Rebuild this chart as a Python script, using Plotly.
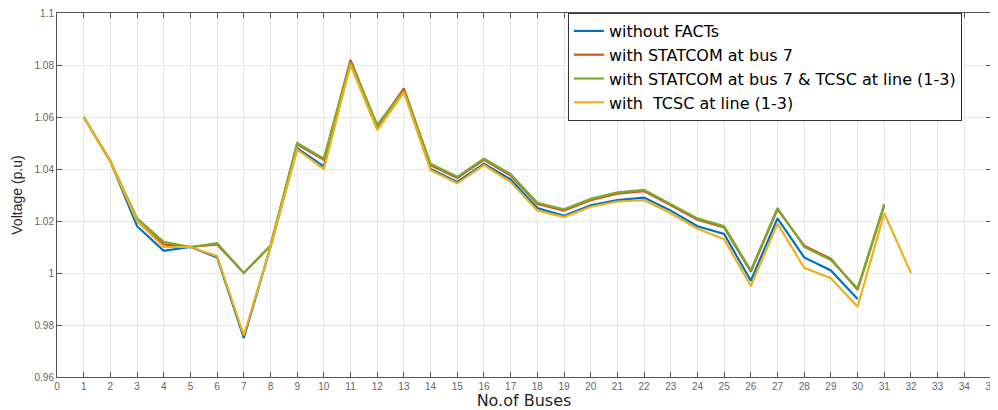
import plotly.graph_objects as go

buses = list(range(1, 33))

without_facts = [1.060, 1.043, 1.018, 1.0085, 1.010, 1.006, 0.975, 1.010, 1.048, 1.041,
                 1.081, 1.056, 1.070, 1.040, 1.035, 1.042, 1.036, 1.025, 1.022, 1.026,
                 1.028, 1.029, 1.024, 1.018, 1.015, 0.997, 1.021, 1.006, 1.001, 0.990]
statcom_bus7 = [1.060, 1.043, 1.020, 1.011, 1.010, 1.011, 1.000, 1.0105, 1.0495, 1.0435,
                1.082, 1.0565, 1.071, 1.0415, 1.0365, 1.0435, 1.0375, 1.0265, 1.024, 1.028,
                1.0305, 1.0315, 1.026, 1.0205, 1.0175, 1.0005, 1.0245, 1.0105, 1.0055, 0.9935,
                1.026]
statcom_tcsc = [1.060, 1.043, 1.021, 1.012, 1.010, 1.0115, 1.000, 1.0105, 1.050, 1.044,
                1.081, 1.057, 1.070, 1.042, 1.037, 1.044, 1.038, 1.027, 1.0245, 1.0285,
                1.031, 1.032, 1.0265, 1.021, 1.018, 1.001, 1.025, 1.010, 1.005, 0.994,
                1.0265]
tcsc_line13 = [1.060, 1.043, 1.020, 1.010, 1.010, 1.0065, 0.976, 1.010, 1.0475, 1.040,
               1.080, 1.055, 1.0695, 1.0395, 1.0345, 1.0415, 1.035, 1.024, 1.0215, 1.0255,
               1.0275, 1.028, 1.023, 1.017, 1.013, 0.995, 1.019, 1.002, 0.998, 0.987,
               1.023, 1.000]

series = [
    ("without FACTs", without_facts, "#0072BD"),
    ("with STATCOM at bus 7", statcom_bus7, "#D95319"),
    ("with STATCOM at bus 7 & TCSC at line (1-3)", statcom_tcsc, "#77AC30"),
    ("with  TCSC at line (1-3)", tcsc_line13, "#EDB120"),
]

x_ticks = list(range(0, 36))
y_ticks = [0.96, 0.98, 1.00, 1.02, 1.04, 1.06, 1.08, 1.10]
y_tick_labels = ["0.96", "0.98", "1", "1.02", "1.04", "1.06", "1.08", "1.1"]

fig = go.Figure()
for name, vals, color in series:
    fig.add_trace(go.Scatter(
        x=buses[:len(vals)], y=vals, mode="lines", name=name,
        line=dict(color=color, width=2.2),
    ))

axis_common = dict(
    showline=True, linecolor="#555555", linewidth=1, mirror="ticks",
    ticks="inside", ticklen=5, tickcolor="#555555",
    showgrid=True, gridcolor="#e8e8e8", gridwidth=1, zeroline=False,
    automargin=False, ticklabeloverflow="allow",
    tickfont=dict(family="Liberation Sans, Arial, sans-serif", size=10, color="#666666"),
)

fig.update_xaxes(range=[0, 35], tickmode="array", tickvals=x_ticks,
                 title=dict(text="No.of Buses", standoff=1,
                            font=dict(family="DejaVu Sans, sans-serif", size=16, color="#262626")),
                 **axis_common)
fig.update_yaxes(range=[0.96, 1.10], tickmode="array", tickvals=y_ticks, ticktext=y_tick_labels,
                 title=dict(text="Voltage (p.u)", standoff=8,
                            font=dict(family="Liberation Sans, Arial, sans-serif", size=14, color="#262626")),
                 **axis_common)

# the page body adds an 8px offset, so the figure is sized to fill the rest of the window
fig.update_layout(
    width=990, height=402,
    margin=dict(l=49, r=7, t=5, b=33),
    plot_bgcolor="white", paper_bgcolor="white",
    legend=dict(x=0.547, y=1.0, xanchor="left", yanchor="top",
                bgcolor="white", bordercolor="#333333", borderwidth=1,
                font=dict(family="DejaVu Sans, sans-serif", size=16, color="#000000"),
                tracegroupgap=0, itemwidth=30),
    showlegend=True,
)

fig.write_html("out.html")
